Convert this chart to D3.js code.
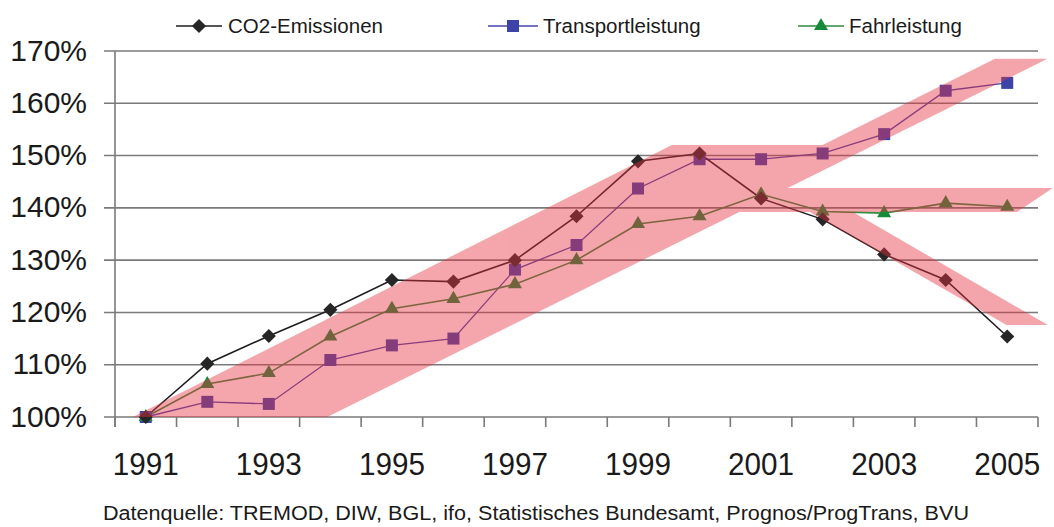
<!DOCTYPE html>
<html>
<head>
<meta charset="utf-8">
<script src="https://cdn.jsdelivr.net/npm/d3@7"></script>
<style>
  html, body { margin: 0; padding: 0; background: #fff; }
  svg { display: block; }
  text { font-family: "Liberation Sans", Arial, Helvetica, sans-serif; fill: #1a1a1a; }
</style>
</head>
<body>
<svg id="chart" width="1054" height="527"></svg>
<script>
// ---- data ----
const years = ["1991","1992","1993","1994","1995","1996","1997","1998","1999","2000","2001","2002","2003","2004","2005"];
const co2Emissionen = [100, 110.2, 115.5, 120.5, 126.2, 125.9, 130.0, 138.4, 148.9, 150.4, 141.8, 137.8, 131.1, 126.2, 115.4];
const transportleistung = [100, 102.9, 102.5, 110.9, 113.7, 115.0, 128.2, 132.9, 143.7, 149.3, 149.3, 150.4, 154.1, 162.4, 163.9];
const fahrleistung = [100, 106.3, 108.4, 115.4, 120.7, 122.6, 125.4, 130.0, 136.9, 138.4, 142.6, 139.3, 139.0, 140.9, 140.2];
const yTicks = [100, 110, 120, 130, 140, 150, 160, 170];
const xTickLabels = ["1991","1993","1995","1997","1999","2001","2003","2005"];
const seriesNames = ["CO2-Emissionen", "Transportleistung", "Fahrleistung"];
const sourceNote = "Datenquelle: TREMOD, DIW, BGL, ifo, Statistisches Bundesamt, Prognos/ProgTrans, BVU";
// highlight bands (year index, percent)
const bandRising = [[-0.21, 100], [8.55, 152.0], [11.0, 152.0], [13.8, 168.5], [14.65, 168.5], [2.95, 100]];
const bandFlat = [[9.66, 143.8], [14.74, 143.8], [14.16, 139.2], [9.66, 139.2]];
const bandFalling = [[10.79, 139.2], [11.49, 139.2], [14.66, 117.6], [13.99, 117.6]];

// ---- layout ----
const svg = d3.select("#chart");
const plotLeft = 115, plotRight = 1038, plotTop = 51, plotBottom = 417;
const x = d3.scaleLinear().domain([-0.5, years.length - 0.5]).range([plotLeft, plotRight]);
const y = d3.scaleLinear().domain([100, 170]).range([plotBottom, plotTop]);

// gridlines
svg.append("g").selectAll("line").data(yTicks).join("line")
  .attr("x1", 104).attr("x2", plotRight)
  .attr("y1", d => y(d)).attr("y2", d => y(d))
  .attr("stroke", "#7a7a7a").attr("stroke-width", 1.6);

// y axis line
svg.append("line").attr("x1", plotLeft).attr("x2", plotLeft).attr("y1", plotTop).attr("y2", plotBottom + 10)
  .attr("stroke", "#7a7a7a").attr("stroke-width", 1.6);

// x ticks at category boundaries
const xBoundaries = d3.range(0, years.length + 1).map(i => i - 0.5);
svg.append("g").selectAll("line").data(xBoundaries).join("line")
  .attr("x1", d => x(d)).attr("x2", d => x(d))
  .attr("y1", plotBottom).attr("y2", plotBottom + 10)
  .attr("stroke", "#7a7a7a").attr("stroke-width", 1.6);

// y labels
svg.append("g").selectAll("text").data(yTicks).join("text")
  .attr("x", 87).attr("y", d => y(d) + 9.5)
  .attr("text-anchor", "end").attr("font-size", 30)
  .text(d => d + "%");

// x labels
svg.append("g").selectAll("text").data(xTickLabels).join("text")
  .attr("x", d => x(years.indexOf(d))).attr("y", 475)
  .attr("text-anchor", "middle").attr("font-size", 32)
  .attr("textLength", 66).attr("lengthAdjust", "spacingAndGlyphs")
  .text(d => d);

// series
const styles = [
  { name: seriesNames[0], values: co2Emissionen, line: "#1e1e1e", fill: "#262626", width: 1.6,
    sym: d3.symbol().type(d3.symbolSquare).size(100), rot: 45 },
  { name: seriesNames[1], values: transportleistung, line: "#4444aa", fill: "#3c44a8", width: 1.3,
    sym: d3.symbol().type(d3.symbolSquare).size(144), rot: 0 },
  { name: seriesNames[2], values: fahrleistung, line: "#2f8a3f", fill: "#178a3a", width: 1.6,
    sym: d3.symbol().type(d3.symbolTriangle).size(85), rot: 0 }
];
const lineGen = d3.line().x((d, i) => x(i)).y(d => y(d));
[1, 2, 0].forEach(k => {
  const s = styles[k];
  svg.append("path").datum(s.values).attr("d", lineGen)
    .attr("fill", "none").attr("stroke", s.line).attr("stroke-width", s.width);
});
[1, 2, 0].forEach(k => {
  const s = styles[k];
  svg.append("g").selectAll("path").data(s.values).join("path")
    .attr("d", s.sym())
    .attr("transform", (d, i) => `translate(${x(i)},${y(d)}) rotate(${s.rot})`)
    .attr("fill", s.fill);
});

// highlight bands overlay
const bandGroup = svg.append("g").attr("opacity", 0.435);
const bandLine = d3.line().x(d => x(d[0])).y(d => y(d[1]));
[bandRising, bandFlat, bandFalling].forEach(b => {
  bandGroup.append("path").attr("d", bandLine(b) + "Z").attr("fill", "#e63240");
});

// legend
const legendItems = [
  { s: styles[0], x1: 176, x2: 222, tx: 228 },
  { s: styles[1], x1: 488, x2: 538, tx: 543 },
  { s: styles[2], x1: 798, x2: 844, tx: 849 }
];
const lg = svg.append("g");
legendItems.forEach(it => {
  const cy = 26;
  lg.append("line").attr("x1", it.x1).attr("x2", it.x2).attr("y1", cy).attr("y2", cy)
    .attr("stroke", it.s.line).attr("stroke-width", it.s.width);
  lg.append("path").attr("d", it.s.sym())
    .attr("transform", `translate(${(it.x1 + it.x2) / 2},${cy}) rotate(${it.s.rot})`)
    .attr("fill", it.s.fill);
  lg.append("text").attr("x", it.tx).attr("y", 33).attr("font-size", 20.5).text(it.s.name);
});

// source note
svg.append("text").attr("x", 103).attr("y", 520).attr("font-size", 19.5)
  .attr("textLength", 866).attr("lengthAdjust", "spacingAndGlyphs")
  .text(sourceNote);
</script>
</body>
</html>
